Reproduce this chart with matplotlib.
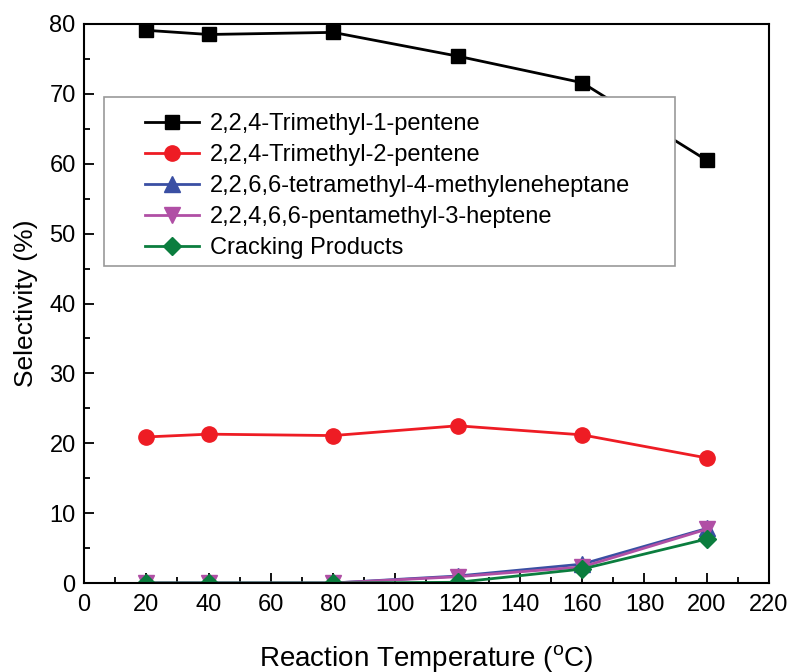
import numpy as np
import matplotlib
matplotlib.use("Agg")
import matplotlib.pyplot as plt
from matplotlib.ticker import MultipleLocator
from matplotlib.patches import Rectangle

plt.rcParams['font.family'] = ['Liberation Sans', 'DejaVu Sans']

temps = [20, 40, 80, 120, 160, 200]
tmp1 = [79.1, 78.5, 78.8, 75.4, 71.6, 60.5]
tmp2 = [20.9, 21.3, 21.1, 22.5, 21.2, 17.9]
tetra = [0.0, 0.0, 0.0, 1.0, 2.7, 7.8]
penta = [0.0, 0.0, 0.0, 0.9, 2.3, 7.7]
cracking = [0.0, 0.0, 0.0, 0.1, 2.0, 6.3]

labels = ["2,2,4-Trimethyl-1-pentene", "2,2,4-Trimethyl-2-pentene",
          "2,2,6,6-tetramethyl-4-methyleneheptane",
          "2,2,4,6,6-pentamethyl-3-heptene", "Cracking Products"]

fig = plt.figure(figsize=(7.92, 6.72), dpi=100)
ax = fig.add_axes([84 / 792, 89 / 672, 685 / 792, 559 / 672])

ax.plot(temps, tmp1, color='black', marker='s', ms=9.5, lw=2, label=labels[0])
ax.plot(temps, tmp2, color='#ee1c24', marker='o', ms=11, lw=2, label=labels[1])
ax.plot(temps, tetra, color='#3a4fa3', marker='^', ms=11, lw=2, label=labels[2])
ax.plot(temps, penta, color='#b04fa5', marker='v', ms=11, lw=2, label=labels[3])
ax.plot(temps, cracking, color='#0b7d3e', marker='D', ms=9.5, lw=2, label=labels[4])

ax.set_xlim(0, 220)
ax.set_ylim(0, 80)
ax.xaxis.set_major_locator(MultipleLocator(20))
ax.xaxis.set_minor_locator(MultipleLocator(10))
ax.yaxis.set_major_locator(MultipleLocator(10))
ax.yaxis.set_minor_locator(MultipleLocator(5))
ax.tick_params(which='both', direction='in', labelsize=17, width=1.3)
ax.tick_params(which='major', length=7)
ax.tick_params(which='minor', length=4)
ax.tick_params(axis='x', pad=8)
ax.tick_params(axis='y', pad=6)
for s in ax.spines.values():
    s.set_linewidth(1.5)

ax.set_xlabel("Reaction Temperature ($\\mathregular{^{o}}$C)", fontsize=20, labelpad=19)
ax.set_ylabel("Selectivity (%)", fontsize=19, labelpad=8)

# legend box (opaque, covers the black line)
ax.add_patch(Rectangle((0.029, 0.567), 0.834, 0.302, transform=ax.transAxes,
                       facecolor='white', edgecolor='#999999', lw=1.2, zorder=3))
leg = ax.legend(loc='upper left', bbox_to_anchor=(0.089, 0.840), fontsize=17,
                frameon=False, borderpad=0, borderaxespad=0, labelspacing=0.38,
                handlelength=2.3, handletextpad=0.45)
leg.set_zorder(5)

fig.savefig("out.png", dpi=100)
